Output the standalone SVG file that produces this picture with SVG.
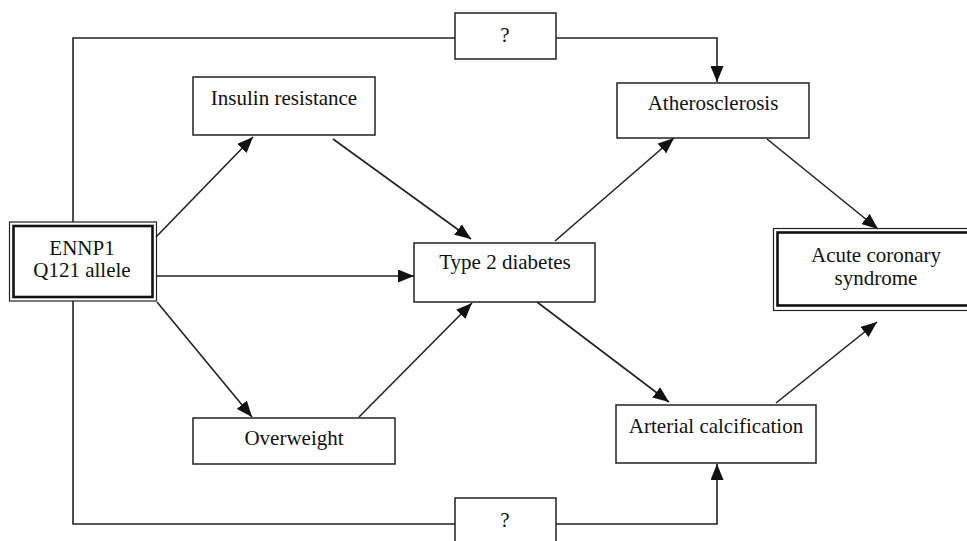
<svg xmlns="http://www.w3.org/2000/svg" width="967" height="541" viewBox="0 0 967 541">
<style>
.box{fill:#fff;stroke:#222;stroke-width:1.5}
.thin{fill:none;stroke:#222;stroke-width:1.2}
.thick{fill:none;stroke:#111;stroke-width:2.6}
.lbl{font-family:"Liberation Serif","Times New Roman",serif;font-size:21px;fill:#111;text-anchor:middle}
.edge{fill:none;stroke:#222;stroke-width:1.6}
.arr{marker-end:url(#ah)}
</style>
<defs>
<marker id="ah" markerUnits="userSpaceOnUse" markerWidth="16" markerHeight="13" viewBox="0 0 16 13" refX="16" refY="6.5" orient="auto">
<path d="M0,0 L16,6.5 L0,13 Z" fill="#111"/>
</marker>
</defs>
<rect width="967" height="541" fill="#fff"/>
<g id="connectors">
<polyline class="edge" points="73,222 73,38 455,38"/>
<polyline class="edge arr" points="556,38 717,38 717,82"/>
<polyline class="edge" points="73,301 73,524 455,524"/>
<polyline class="edge arr" points="556,524 717,524 717,464"/>
<line class="edge arr" x1="156" y1="237" x2="253" y2="137"/>
<line class="edge arr" x1="156" y1="276" x2="414" y2="276"/>
<line class="edge arr" x1="157" y1="302" x2="252" y2="417"/>
<line class="edge arr" x1="333" y1="139" x2="471" y2="239"/>
<line class="edge arr" x1="359" y1="417" x2="472" y2="303"/>
<line class="edge arr" x1="555" y1="241" x2="674" y2="138"/>
<line class="edge arr" x1="537" y1="302" x2="669" y2="402"/>
<line class="edge arr" x1="767" y1="139" x2="878" y2="229"/>
<line class="edge arr" x1="776" y1="403" x2="877" y2="322"/>
</g>
<g id="q-top">
<rect class="box" x="455" y="13" width="101" height="46"/>
<text class="lbl" x="505" y="42">?</text>
</g>
<g id="q-bottom">
<rect class="box" x="455" y="498" width="101" height="50"/>
<text class="lbl" x="505" y="527">?</text>
</g>
<g id="ennp1">
<rect x="9.5" y="222" width="147" height="79" fill="#fff" class="thin"/>
<rect x="13.5" y="226" width="139" height="71" class="thick"/>
<text class="lbl" x="82" y="255">ENNP1</text>
<text class="lbl" x="82" y="277">Q121 allele</text>
</g>
<g id="insulin">
<rect class="box" x="193" y="77" width="182" height="58"/>
<text class="lbl" x="284" y="105">Insulin resistance</text>
</g>
<g id="overweight">
<rect class="box" x="193" y="418" width="202" height="46"/>
<text class="lbl" x="294" y="445">Overweight</text>
</g>
<g id="t2d">
<rect class="box" x="414" y="243" width="181" height="59"/>
<text class="lbl" x="505" y="269">Type 2 diabetes</text>
</g>
<g id="athero">
<rect class="box" x="617" y="83" width="192" height="55"/>
<text class="lbl" x="713" y="110">Atherosclerosis</text>
</g>
<g id="calc">
<rect class="box" x="616" y="405" width="200" height="58"/>
<text class="lbl" x="716" y="433">Arterial calcification</text>
</g>
<g id="acs">
<rect x="773.5" y="228.5" width="200" height="82" fill="#fff" class="thin"/>
<rect x="777.5" y="232.5" width="200" height="73" class="thick"/>
<text class="lbl" x="876" y="262">Acute coronary</text>
<text class="lbl" x="876" y="285">syndrome</text>
</g>
</svg>
